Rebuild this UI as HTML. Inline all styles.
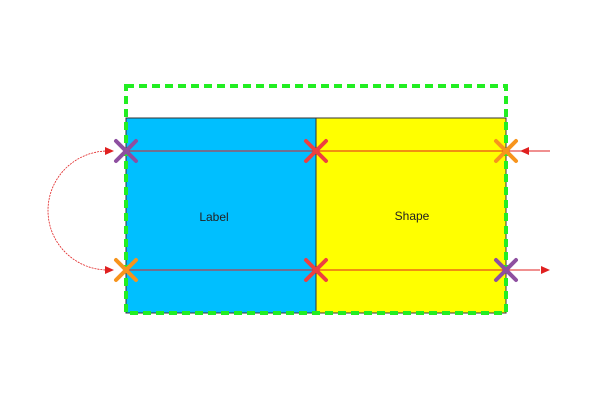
<!DOCTYPE html>
<html><head><style>body{margin:0;background:#fff}</style></head><body>
<svg width="600" height="400" xmlns="http://www.w3.org/2000/svg" font-family="Liberation Sans, sans-serif">
<rect x="126" y="118" width="190" height="195" fill="#00bfff" stroke="#333" stroke-width="1"/>
<rect x="316" y="118" width="190" height="195" fill="#ffff00" stroke="#333" stroke-width="1"/>
<text x="214" y="221" font-size="12" text-anchor="middle" fill="#222">Label</text>
<text x="412" y="220" font-size="12" text-anchor="middle" fill="#222">Shape</text>
<line x1="126" y1="151" x2="506" y2="151" stroke="#e02020" stroke-width="1"/>
<line x1="126" y1="270" x2="540" y2="270" stroke="#e02020" stroke-width="1"/>
<line x1="506" y1="151" x2="550" y2="151" stroke="#e02020" stroke-width="1"/>
<polygon points="520,151 529,147 529,155" fill="#e02020"/>
<polygon points="550,270 541,266 541,274" fill="#e02020"/>
<path d="M108,151 A60,59.5 0 0 0 108,270" fill="none" stroke="#e02020" stroke-width="0.8" stroke-dasharray="2,1"/>
<polygon points="114,151 105,147 105,155" fill="#e02020"/>
<polygon points="114,270 105,266 105,274" fill="#e02020"/>
<rect x="126" y="86" width="380" height="227" fill="none" stroke="#22ee22" stroke-width="4" stroke-dasharray="8,5"/>
<g stroke-width="4" stroke-linecap="round">
<g stroke="#8e4fa0"><path d="M116,141 L136,161 M136,141 L116,161"/><path d="M496,260 L516,280 M516,260 L496,280"/></g>
<g stroke="#f7941d"><path d="M116,260 L136,280 M136,260 L116,280"/><path d="M496,141 L516,161 M516,141 L496,161"/></g>
<g stroke="#ee4040"><path d="M306,141 L326,161 M326,141 L306,161"/><path d="M306,260 L326,280 M326,260 L306,280"/></g>
</g>
</svg>
</body></html>
